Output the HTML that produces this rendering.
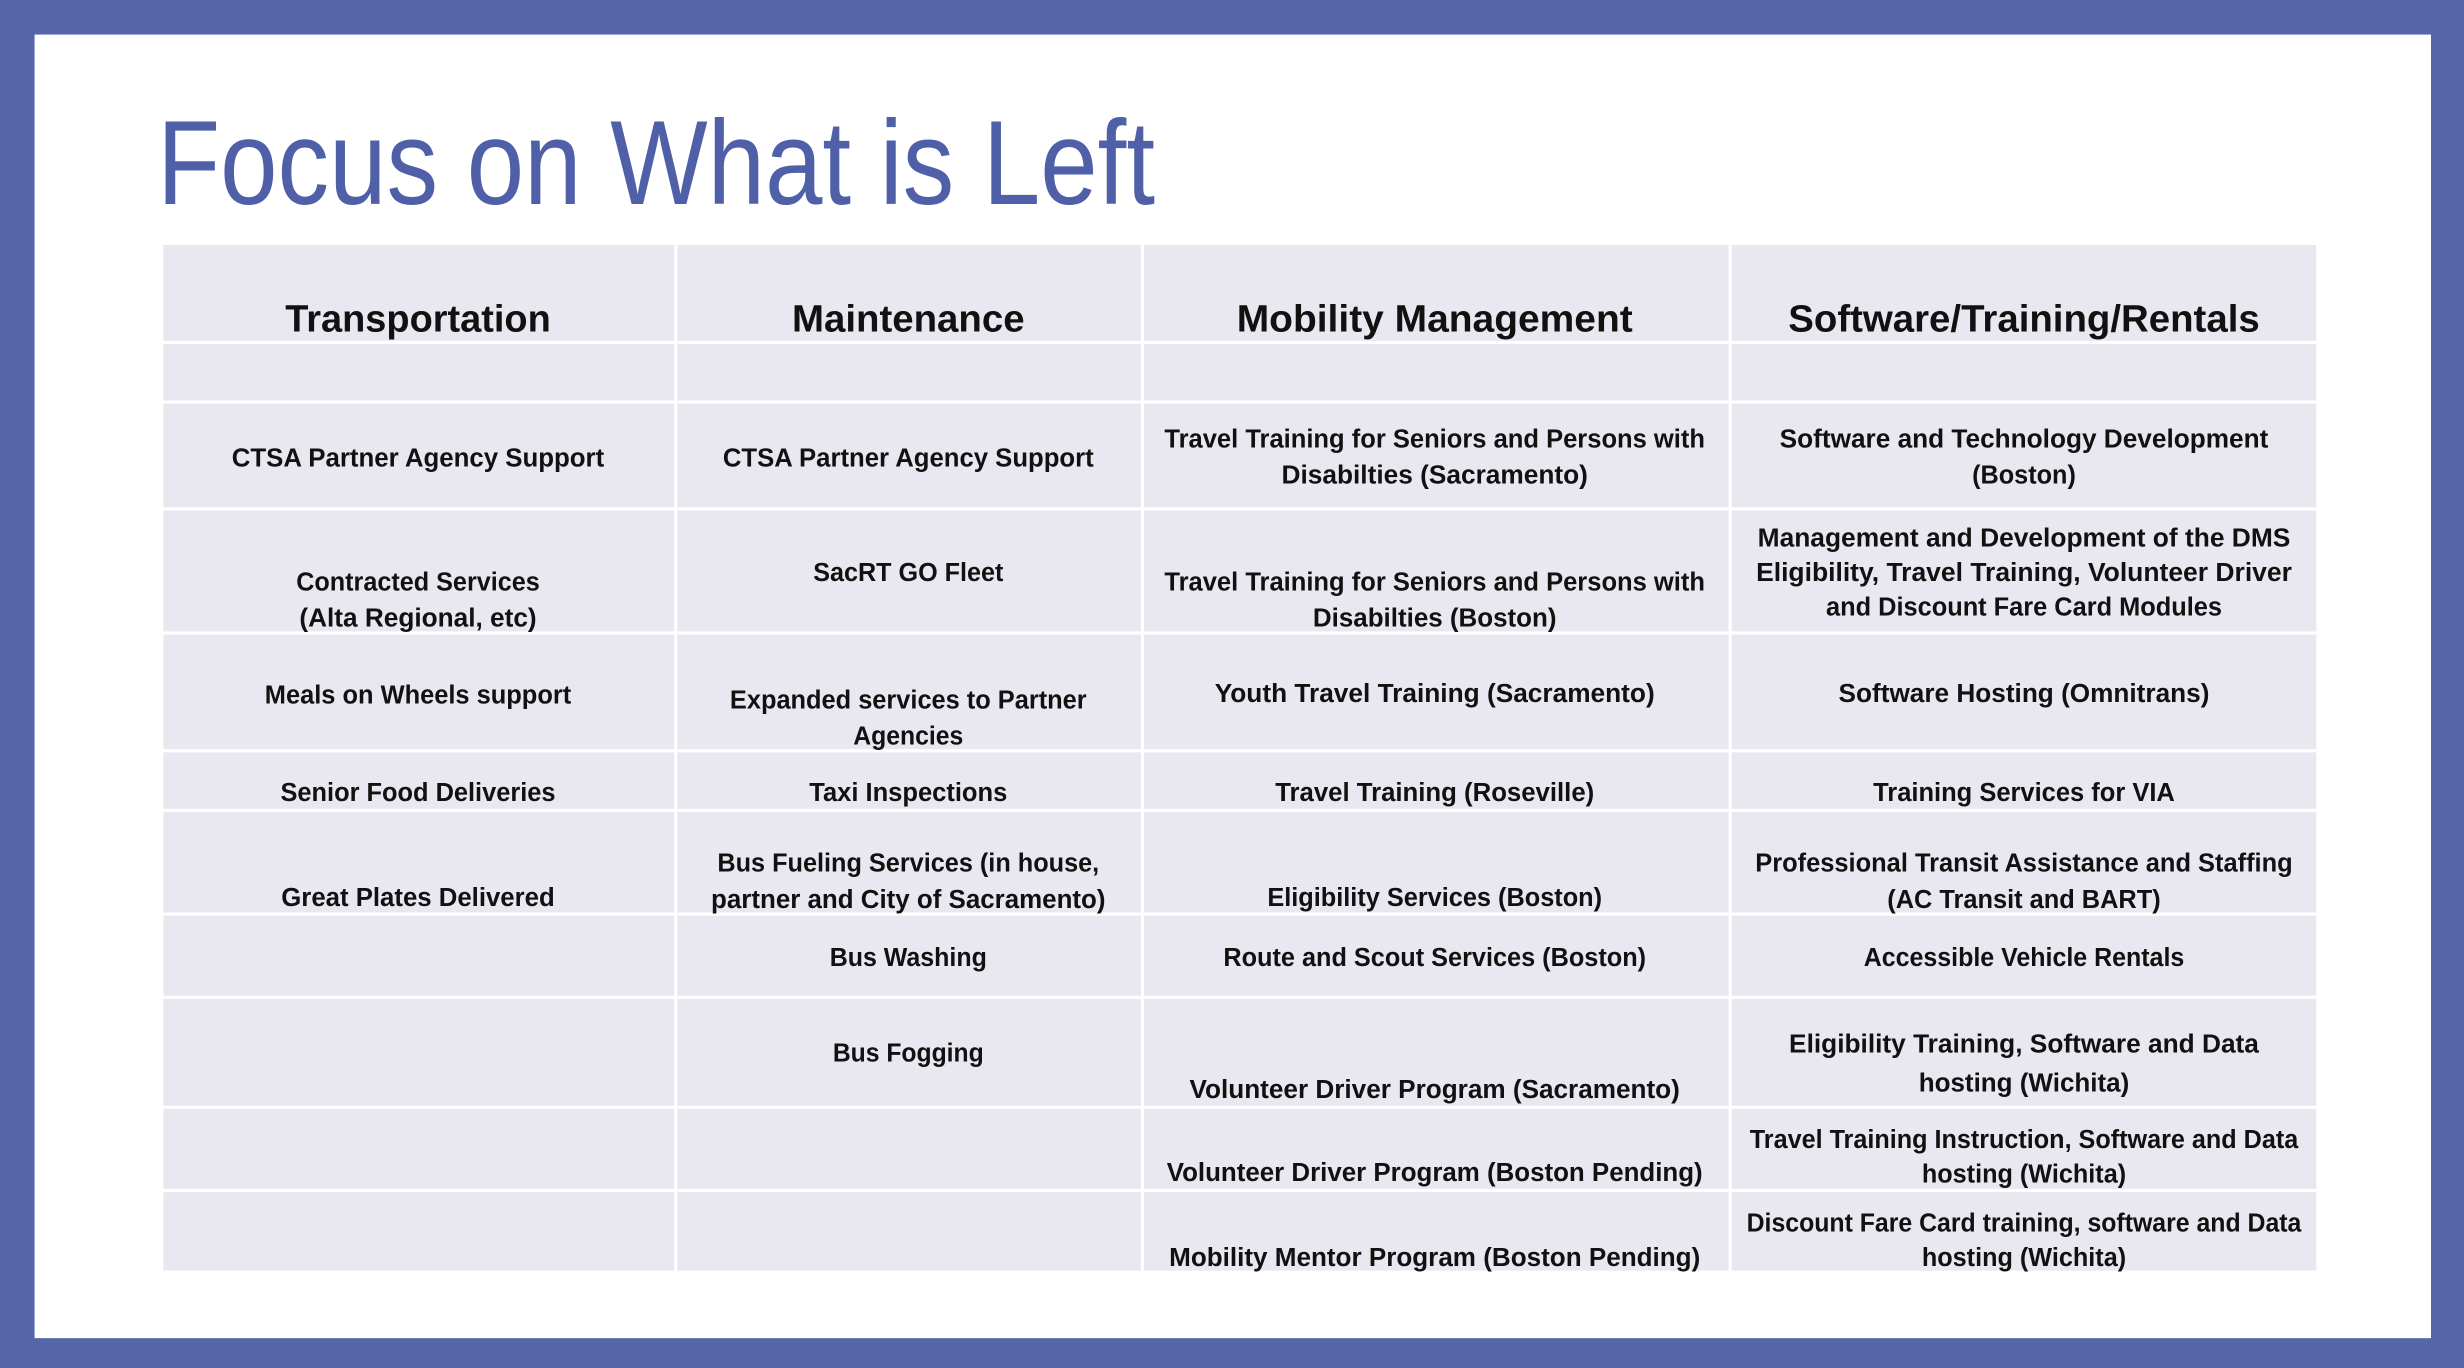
<!DOCTYPE html>
<html><head><meta charset="utf-8"><style>
html,body{margin:0;padding:0;background:#5465a8;}
svg{display:block;}
text{font-family:"Liberation Sans",sans-serif;}
</style></head><body>
<svg id="s" width="2464" height="1368" viewBox="0 0 1568 871" preserveAspectRatio="none" xmlns="http://www.w3.org/2000/svg">
<rect x="0" y="0" width="1568" height="871" fill="#5465a8"/>
<rect x="22" y="22" width="1525" height="830" fill="#ffffff"/>
<text x="100" y="130" font-size="76" fill="#4f5fa8" textLength="635" lengthAdjust="spacingAndGlyphs">Focus on What is Left</text>
<g id="cells"></g>
<g id="texts"></g>
</svg>
<script>
const colX=[104,430,727,1101,1475];
const rowY=[156,218,256,324,403,478,516,582,635,705,758,810];
const centers=[266,578,913,1288];
const headers=[["Transportation",169],["Maintenance",148],["Mobility Management",252],["Software/Training/Rentals",300]];
const lines=[
[0,291,"CTSA Partner Agency Support",237],[1,291,"CTSA Partner Agency Support",236],
[2,279,"Travel Training for Seniors and Persons with",344],[2,302,"Disabilties  (Sacramento)",195],
[3,279,"Software and Technology Development",311],[3,302,"(Boston)",66],
[0,370,"Contracted Services",155],[0,393,"(Alta Regional, etc)",151],[1,364,"SacRT GO Fleet",121],
[2,370,"Travel Training for Seniors and Persons with",344],[2,393,"Disabilties  (Boston)",155],
[3,342,"Management and Development of the DMS",339],[3,364,"Eligibility, Travel Training, Volunteer Driver",341],[3,386,"and Discount Fare Card Modules",252],
[0,442,"Meals on Wheels support",195],[1,445,"Expanded services to Partner",227],[1,468,"Agencies",70],
[2,441,"Youth Travel Training (Sacramento)",280],[3,441,"Software Hosting (Omnitrans)",236],
[0,504,"Senior Food Deliveries",175],[1,504,"Taxi Inspections",126],[2,504,"Travel Training (Roseville)",203],[3,504,"Training Services for VIA",192],
[0,571,"Great Plates Delivered",174],[1,549,"Bus Fueling Services  (in house,",243],[1,572,"partner and City of Sacramento)",251],
[2,571,"Eligibility Services (Boston)",213],[3,549,"Professional Transit Assistance and Staffing",342],[3,572,"(AC Transit and BART)",174],
[1,609,"Bus Washing",100],[2,609,"Route and Scout Services (Boston)",269],[3,609,"Accessible Vehicle Rentals",204],
[1,670,"Bus Fogging",96],[2,693,"Volunteer Driver Program (Sacramento)",312],[3,664,"Eligibility Training, Software and Data",299],[3,689,"hosting (Wichita)",134],
[2,746,"Volunteer Driver Program (Boston Pending)",341],[3,725,"Travel Training Instruction, Software and Data",349],[3,747,"hosting (Wichita)",130],
[2,800,"Mobility Mentor Program (Boston Pending)",338],[3,778,"Discount Fare Card training, software and Data",353],[3,800,"hosting (Wichita)",130]
];
const NS="http://www.w3.org/2000/svg";
const cg=document.getElementById('cells'), tg=document.getElementById('texts');
for(let r=0;r<rowY.length-1;r++){for(let c=0;c<4;c++){
  const el=document.createElementNS(NS,'rect');
  el.setAttribute('x',colX[c]+(c?1:0));el.setAttribute('y',rowY[r]+(r?1:0));
  el.setAttribute('width',colX[c+1]-colX[c]-(c?1:0)-1);el.setAttribute('height',rowY[r+1]-rowY[r]-(r?1:0)-1);
  el.setAttribute('fill','#e9e8f0');
  
  
  cg.appendChild(el);
}}
function addText(x,y,s,w,size,name){
  const t=document.createElementNS(NS,'text');
  t.setAttribute('x',x);t.setAttribute('y',y);t.setAttribute('text-anchor','middle');
  t.setAttribute('font-size',size);t.setAttribute('font-weight','bold');t.setAttribute('fill','#111');
  t.setAttribute('textLength',w);t.setAttribute('lengthAdjust','spacingAndGlyphs');
  t.textContent=s;
  
  
  tg.appendChild(t);
}
headers.forEach((h,i)=>addText(centers[i],211,h[0],h[1],24,'column-header'));
lines.forEach(l=>addText(centers[l[0]],l[1]+6,l[2],l[3],16.5,'cell-text'));
</script>
</body></html>
